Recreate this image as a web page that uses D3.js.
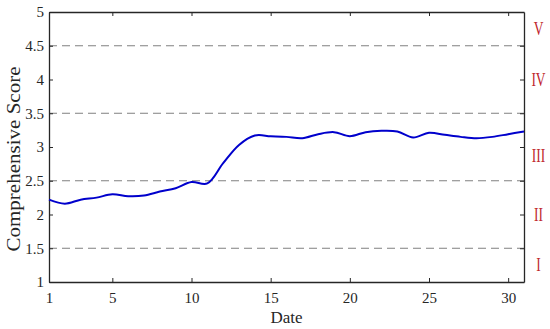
<!DOCTYPE html>
<meta charset="utf-8">
<style>
body { margin: 0; background: #fff; }
text { font-family: "Liberation Serif", "Times New Roman", serif; }
.tick text { font-size: 15px; fill: #262626; }
.tick line { stroke: #262626; }
.domain { stroke: #262626; }
</style>
<svg width="550" height="329"></svg>
<script src="https://d3js.org/d3.v7.min.js"></script>
<script>

// daily comprehensive score
var days = d3.range(1, 32);
var scores = [2.22, 2.16, 2.22, 2.25, 2.30, 2.27, 2.28, 2.34, 2.39, 2.48,
              2.46, 2.76, 3.03, 3.17, 3.16, 3.15, 3.13, 3.19, 3.22, 3.16,
              3.22, 3.24, 3.23, 3.14, 3.21, 3.18, 3.15, 3.13, 3.15, 3.19,
              3.23];
var xTicks = [1, 5, 10, 15, 20, 25, 30];
var yTicks = [1, 1.5, 2, 2.5, 3, 3.5, 4, 4.5, 5];
var gradeLines = [1.5, 2.5, 3.5, 4.5];
var gradeNames = ["I", "II", "III", "IV", "V"];
var gradePos = [1.25, 2, 2.87, 4, 4.75];

var svg = d3.select("svg"),
    plotL = 49, plotR = 524, plotT = 12, plotB = 282;

var x = d3.scaleLinear().domain([1, 31]).range([plotL, plotR]);
var y = d3.scaleLinear().domain([1, 5]).range([plotB, plotT]);

// dashed grade boundaries
svg.selectAll(".grade")
  .data(gradeLines)
  .enter().append("line")
    .attr("x1", plotL).attr("x2", plotR)
    .attr("y1", function(d) { return y(d); })
    .attr("y2", function(d) { return y(d); })
    .attr("stroke", "#808080")
    .attr("stroke-width", 1)
    .attr("stroke-dasharray", "8,5");

// axes, ticks pointing inward
svg.append("g")
    .attr("transform", "translate(0," + plotB + ")")
    .call(d3.axisBottom(x).tickValues(xTicks).tickSizeInner(-4).tickSizeOuter(0).tickPadding(10));

svg.append("g")
    .attr("transform", "translate(0," + plotT + ")")
    .call(d3.axisTop(x).tickValues(xTicks).tickSizeInner(-4).tickSizeOuter(0).tickFormat(""));

svg.append("g")
    .attr("transform", "translate(" + plotL + ",0)")
    .call(d3.axisLeft(y).tickValues(yTicks).tickSizeInner(-4).tickSizeOuter(0).tickPadding(5).tickFormat(d3.format("")));

svg.append("g")
    .attr("transform", "translate(" + plotR + ",0)")
    .call(d3.axisRight(y).tickValues(yTicks).tickSizeInner(-4).tickSizeOuter(0).tickFormat(""));

svg.selectAll(".domain").attr("stroke-width", 1.3);

// the score line
var line = d3.line()
    .x(function(d, i) { return x(days[i]); })
    .y(function(d) { return y(d); })
    .curve(d3.curveCatmullRom);

svg.append("path")
    .datum(scores)
    .attr("d", line)
    .attr("fill", "none")
    .attr("stroke", "#0000cc")
    .attr("stroke-width", 2);

// grade labels on the right (narrow, tall glyphs)
svg.selectAll(".gname")
  .data(gradeNames)
  .enter().append("text")
    .attr("transform", function(d, i) {
      return "translate(538.5," + y(gradePos[i]) + ") scale(0.75,1)";
    })
    .attr("dy", "0.35em")
    .attr("text-anchor", "middle")
    .attr("font-size", 18)
    .attr("fill", "#c0272d")
    .text(function(d) { return d; });

// axis titles
svg.append("text")
    .attr("x", (plotL + plotR) / 2)
    .attr("y", 323)
    .attr("text-anchor", "middle")
    .attr("font-size", 17)
    .attr("fill", "#262626")
    .text("Date");

svg.append("text")
    .attr("transform", "translate(20,159) rotate(-90)")
    .attr("text-anchor", "middle")
    .attr("font-size", 18)
    .attr("textLength", 185)
    .attr("lengthAdjust", "spacingAndGlyphs")
    .attr("fill", "#262626")
    .text("Comprehensive Score");

</script>
